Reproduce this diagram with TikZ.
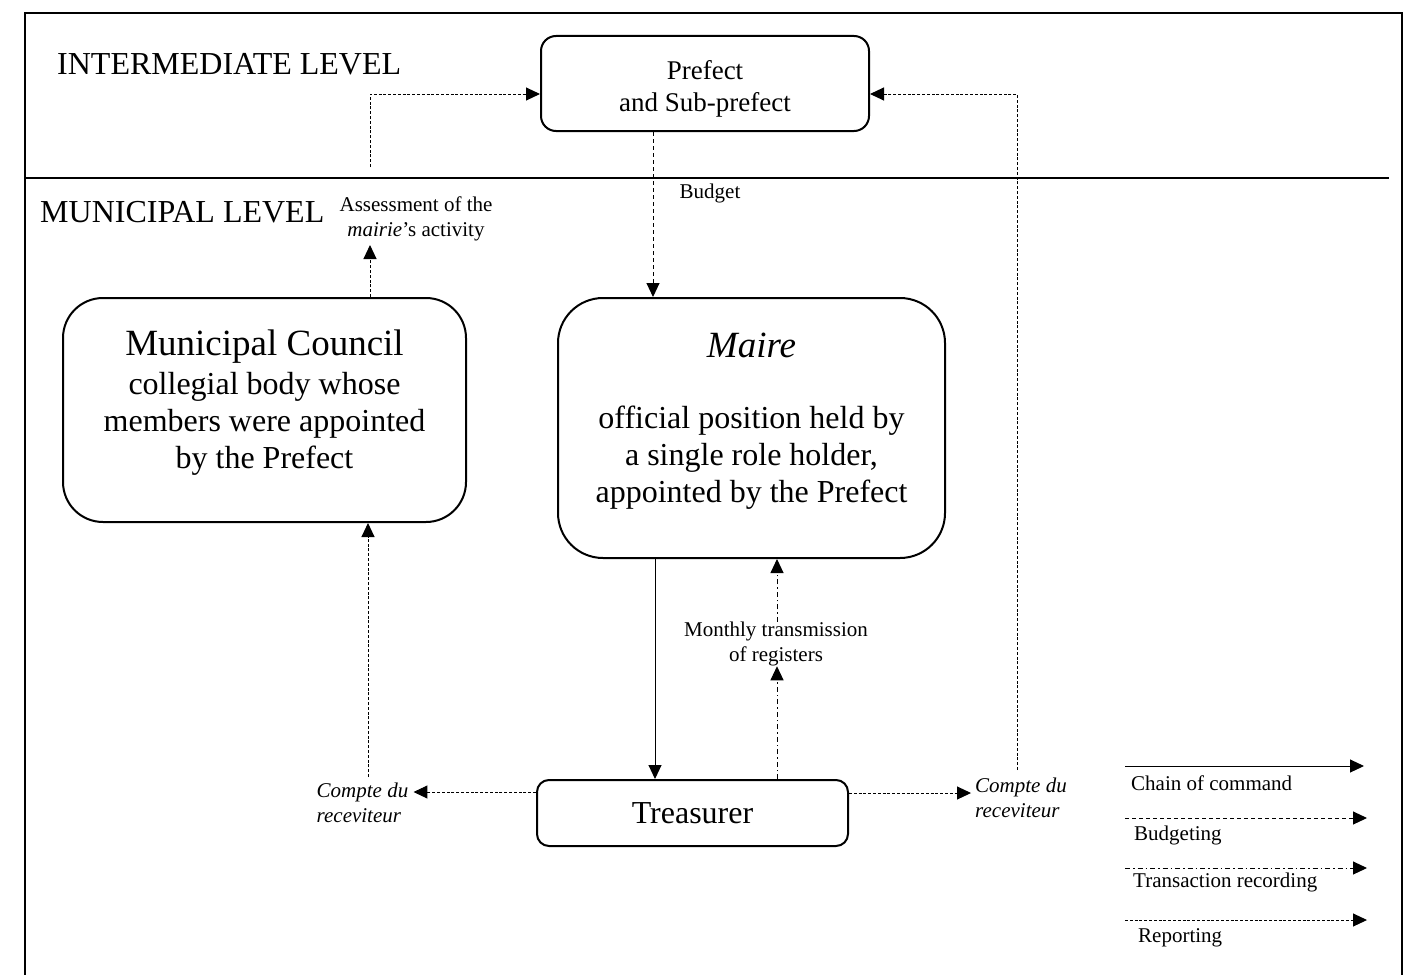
\documentclass[tikz,border=0pt]{standalone}
\usepackage{fontspec}
\setmainfont{Liberation Serif}
\usetikzlibrary{arrows.meta,calc}
\begin{document}
\begin{tikzpicture}[x=1pt,y=-1pt,
  box/.style={draw,line width=2pt,align=center,inner sep=0pt},
  txt/.style={align=center,inner sep=0pt},
  conn/.style={line width=1pt,-{Triangle[length=14pt,width=13pt]}},
  command/.style={conn},
  budgetline/.style={conn,dash pattern=on 4pt off 3pt},
  transline/.style={conn,dash pattern=on 5pt off 3pt on 1.5pt off 3pt},
  reportline/.style={conn,dash pattern=on 3pt off 1.8pt},
  big/.style={font=\fontsize{32}{37}\selectfont},
  small/.style={font=\fontsize{21}{25}\selectfont},
  lbl/.style={small,align=center,inner sep=0pt}
]
\useasboundingbox (0,0) rectangle (1407,974);
\clip (0,0) rectangle (1407,974);
\fill[white] (0,0) rectangle (1407,974);
% frame and level separator
\draw[line width=2pt] (25,13) rectangle (1402,1010);
\draw[line width=1.5pt] (25,178) -- (1389,178);

% level titles
\node[big,anchor=west,inner sep=0pt] (inter) at (57,64) {INTERMEDIATE LEVEL};
\node[big,anchor=west,inner sep=0pt] (muni) at (40,212) {MUNICIPAL LEVEL};

% boxes
\node[box,rounded corners=15pt,minimum width=328pt,minimum height=95pt] (prefect) at (705,83.5) {};
\node[txt,font=\fontsize{27}{32}\selectfont] (prefect-t) at (705,88.5) {Prefect\\and Sub-prefect};

\node[box,rounded corners=40pt,minimum width=403pt,minimum height=224pt] (council) at (264.5,410) {};
\node[txt,big] (council-t) at (264.5,403)
      {{\fontsize{37}{40}\selectfont Municipal Council}\\[2pt]collegial body whose\\members were appointed\\by the Prefect};

\node[box,rounded corners=45pt,minimum width=387pt,minimum height=260pt] (maire) at (751.5,428) {};
\node[txt,big] (maire-t) at (751.5,421)
      {{\fontsize{37}{40}\selectfont\itshape Maire}\\[34pt]official position held by\\a single role holder,\\appointed by the Prefect};

\node[box,rounded corners=12pt,minimum width=311pt,minimum height=66pt,big] (treas) at (692.5,813)
      {Treasurer};

% labels
\node[lbl] (budget) at (710,193) {Budget};
\node[lbl] (asmt) at (416,219) {Assessment of the\\\textit{mairie}’s activity};
\node[lbl] (monthly) at (776,644) {Monthly transmission\\of registers};
\node[lbl,align=left,font=\fontsize{21}{25}\selectfont\itshape] (cl) at (362.5,803) {Compte du\\receviteur};
\node[lbl,align=left,font=\fontsize{21}{25}\selectfont\itshape] (cr) at (1021,798) {Compte du\\receviteur};

% helper coordinates
\coordinate (xb) at (653,0);
\coordinate (xa) at (370,0);
\coordinate (a1) at (370,167);
\coordinate (c1) at (368,777);
\coordinate (xm) at (655,0);
\coordinate (xt) at (777,0);
\coordinate (r2) at (1017,770);

% connectors
\draw[budgetline] (prefect.south -| xb) -- (maire.north -| xb);
\draw[reportline] (council.north -| xa) -- (xa |- 0,245);
\draw[reportline] (a1) |- ([yshift=-10.5pt]prefect.west);
\draw[reportline] (r2) |- ([yshift=-10.5pt]prefect.east);
\draw[reportline] (c1) -- (council.south -| c1);
\draw[reportline] ([yshift=21pt]treas.west) -- ([xshift=5pt]cl.east |- 0,792);
\draw[reportline] ([yshift=20pt]treas.east) -- ([xshift=-4pt]cr.west |- 0,793);
\draw[command] (maire.south -| xm) -- (treas.north -| xm);
\draw[transline] (treas.north -| xt) -- (monthly.south -| xt);
\draw[transline] (monthly.north -| xt) -- (maire.south -| xt);

% legend
\coordinate (l1a) at (1125,766); \coordinate (l1b) at (1364,766);
\coordinate (l2a) at (1125,818); \coordinate (l2b) at (1367,818);
\coordinate (l3a) at (1125,868); \coordinate (l3b) at (1367,868);
\coordinate (l4a) at (1125,920); \coordinate (l4b) at (1367,920);
\draw[command] (l1a) -- (l1b);
\draw[budgetline] (l2a) -- (l2b);
\draw[transline] (l3a) -- (l3b);
\draw[reportline] (l4a) -- (l4b);
\node[small,anchor=west,inner sep=0pt] (t1) at (1131,783) {Chain of command};
\node[small,anchor=west,inner sep=0pt] (t2) at (1134,835) {Budgeting};
\node[small,anchor=west,inner sep=0pt] (t3) at (1133,882) {Transaction recording};
\node[small,anchor=west,inner sep=0pt] (t4) at (1138,938) {Reporting};
\end{tikzpicture}
\end{document}
